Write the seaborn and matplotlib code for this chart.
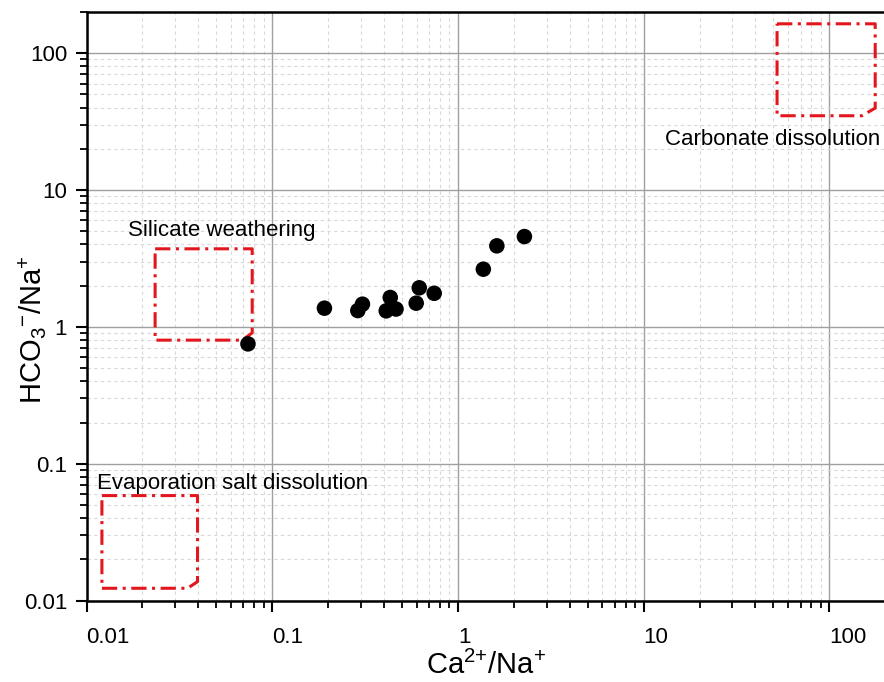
import numpy as np
import pandas as pd
import matplotlib
matplotlib.use("Agg")
import matplotlib.pyplot as plt
import matplotlib.ticker as mticker
import seaborn as sns

ca_na = [0.074, 0.191, 0.289, 0.306, 0.411, 0.432, 0.464, 0.596, 0.619, 0.745, 1.37, 1.62, 2.28]
hco3_na = [0.751, 1.37, 1.316, 1.465, 1.31, 1.64, 1.35, 1.49, 1.93, 1.76, 2.64, 3.91, 4.57]

# end-member regions (dash-dot outlines)
evap_x = [0.0121, 0.0396, 0.0396, 0.035, 0.0121, 0.0121]
evap_y = [0.0585, 0.0585, 0.01375, 0.0123, 0.0123, 0.0585]
sil_x = [0.0234, 0.078, 0.078, 0.0688, 0.0234, 0.0234]
sil_y = [3.72, 3.72, 0.904, 0.80, 0.80, 3.72]
carb_x = [52.3, 176.6, 176.6, 149.8, 52.3, 52.3]
carb_y = [164, 164, 39.7, 34.9, 34.9, 164]

tick_vals = [0.01, 0.1, 1, 10, 100]
tick_labels = ["0.01", "0.1", "1", "10", "100"]

df = pd.DataFrame({"ca": ca_na, "hco3": hco3_na})

sns.set_style("white")
plt.rcParams["font.family"] = ["Liberation Sans", "DejaVu Sans"]
plt.rcParams["mathtext.fontset"] = "custom"
plt.rcParams["mathtext.rm"] = "Liberation Sans"
plt.rcParams["mathtext.it"] = "Liberation Sans"
plt.rcParams["text.color"] = "black"
plt.rcParams["axes.labelcolor"] = "black"
plt.rcParams["xtick.color"] = "black"
plt.rcParams["ytick.color"] = "black"

fig = plt.figure(figsize=(8.84, 6.82), dpi=100)
ax = fig.add_axes([0.0979, 0.1194, 0.9035, 0.863])

ax.set_xscale("log")
ax.set_yscale("log")
ax.set_xlim(0.01, 200)
ax.set_ylim(0.01, 200)

# grid
ax.grid(True, which="major", color="#a0a0a0", lw=1.0, ls="-")
ax.grid(True, which="minor", color="#d8d8d8", lw=0.8, ls=(0, (3, 3)))
ax.set_axisbelow(True)

red = "#e3161e"
for bx, by in [(evap_x, evap_y), (sil_x, sil_y), (carb_x, carb_y)]:
    ax.plot(bx, by, color=red, lw=2.2, dashes=(5, 1.8, 1.0, 1.8), zorder=2)

sns.scatterplot(data=df, x="ca", y="hco3", ax=ax, color="black", s=125,
                edgecolor="none", zorder=3, legend=False)

ax.text(0.01673, 4.63, "Silicate weathering", fontsize=16, ha="left", va="baseline")
ax.text(187.5, 21.4, "Carbonate dissolution", fontsize=16, ha="right", va="baseline")
ax.text(0.0114, 0.0654, "Evaporation salt dissolution", fontsize=16, ha="left", va="baseline")

for axis in [ax.xaxis, ax.yaxis]:
    axis.set_major_locator(mticker.FixedLocator(tick_vals))
    axis.set_major_formatter(mticker.FixedFormatter(tick_labels))
    axis.set_minor_locator(mticker.LogLocator(base=10, subs=np.arange(2, 10), numticks=20))
    axis.set_minor_formatter(mticker.NullFormatter())

ax.tick_params(axis="both", which="major", direction="out", length=8, width=1.5,
               labelsize=16, color="black", labelcolor="black")
ax.tick_params(axis="both", which="minor", direction="out", length=5, width=1.3,
               color="black")
ax.tick_params(axis="x", which="major", pad=11)
ax.tick_params(axis="y", which="major", pad=6)
ax.tick_params(bottom=True, left=True, top=False, right=False)
ax.tick_params(axis="both", which="minor", bottom=True, left=True, top=False, right=False)
for lab in ax.get_xticklabels():
    lab.set_horizontalalignment("left")

for side in ["left", "bottom", "top", "right"]:
    ax.spines[side].set_visible(True)
    ax.spines[side].set_color("black")
    ax.spines[side].set_linewidth(1.8)

ax.set_xlabel(r"Ca$^{2{+}}$/Na$^{+}$", fontsize=21, labelpad=2)
ax.set_ylabel(r"HCO$_{3}$$^{-}$/Na$^{+}$", fontsize=21)
ax.yaxis.set_label_coords(-0.047, 0.46)

fig.savefig("out.png", dpi=100)
